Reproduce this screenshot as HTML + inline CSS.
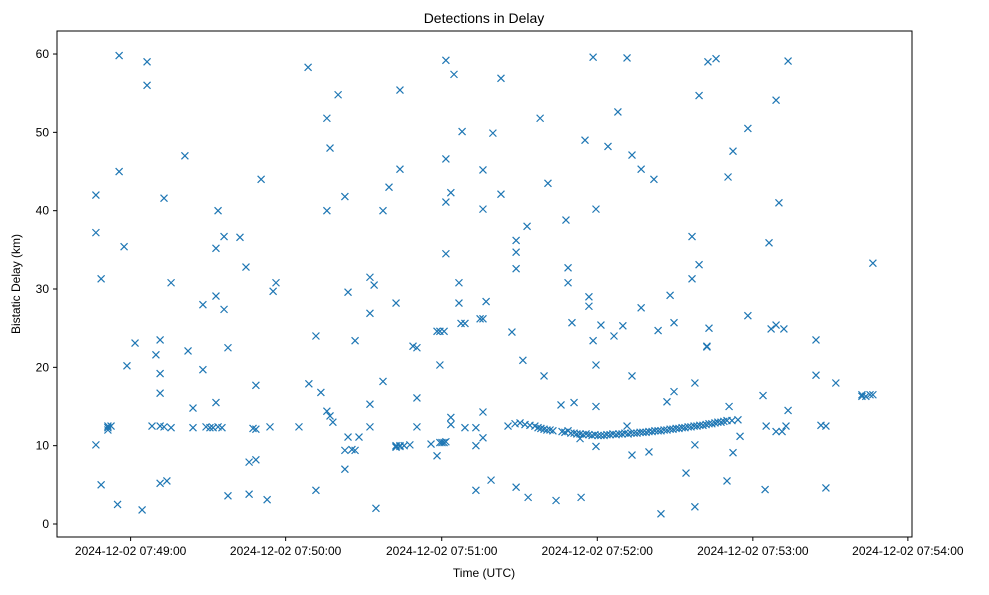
<!DOCTYPE html>
<html><head><meta charset="utf-8"><style>
body{margin:0;background:#fff}
svg{font-family:"Liberation Sans","DejaVu Sans",sans-serif}
</style></head><body>
<svg id="chart" width="989" height="590" xmlns="http://www.w3.org/2000/svg">
<rect width="989" height="590" fill="#fff"/>
<text x="484" y="23" font-size="14" text-anchor="middle">Detections in Delay</text>
<text x="484" y="577" font-size="12" text-anchor="middle">Time (UTC)</text>
<text x="20" y="284" font-size="12" text-anchor="middle" transform="rotate(-90 20 284)">Bistatic Delay (km)</text>
<g id="ticks"></g>
<g id="marks"></g>
<rect x="57" y="31" width="855" height="506" fill="none" stroke="#000" stroke-width="1"/>
</svg>
<script>
// seconds after 07:48:00 UTC
const times = [
50,50,50,52,52,54.6,54.6,54.6,55.8,58.3,58.9,58.9,60.8,61.9,65,67.7,69.6,69.6,71.5,73,74.6,74.6,74.6,74.6,74.6,76.1,76.1,77.2,78.8,78.8,
84.1,85.3,87.2,87.2,91,91,92.2,93.7,94.9,96,96,96,96.8,96.8,98.3,99.1,99.1,100.6,100.6,105.2,107.5,108.7,108.7,110.2,111.3,111.3,111.3,113.3,115.6,116.7,117.9,119,
127.8,131.3,131.6,134.3,134.3,136.2,138.5,138.5,138.5,139.7,139.7,140.8,142.8,145.4,145.4,145.4,146.6,146.6,148.1,149.3,149.3,150.8,
155,155,155,155,156.6,157.3,160,160,162.3,165,165,165,165,166.5,166.5,166.5,166.5,168.1,170.3,171.5,173,173,173,
178.4,180.7,180.7,181.8,181.8,181.8,182.6,183.4,183.4,184.1,184.1,184.1,184.1,184.1,186,186,186,187.2,189.1,189.1,189.9,190.3,191.4,191.4,
195.6,195.6,195.6,197.2,198.3,198.3,198.3,198.3,198.3,199.5,201.4,202.1,205.2,205.2,207.9,209.4,211,211,211,211,213.6,215.2,215.6,
210.6,212.5,214.4,216.3,218.2,219.4,220.5,221.7,222.8,224,225.1,228.6,229.7,230.9,232,233.2,234.3,235.5,236.6,237.8,238.9,240.1,241.2,242.4,243.5,244.7,245.8,247,248.1,249.3,250.4,251.6,252.7,253.9,255,256.2,257.3,258.5,259.6,260.8,261.9,263.1,264.2,265.4,266.5,267.7,268.8,270,271.1,272.3,273.4,274.6,275.7,276.9,278,279.2,280.3,281.4,282.6,283.8,284.9,286,287.2,288.3,289.5,290.6,291.8,293.7,296,
220.2,221.7,223.2,226.3,228.2,230.1,230.9,230.9,232.4,233.2,235.5,235.9,237.4,238.9,238.9,240.5,240.5,241.6,241.6,241.6,241.6,243.5,246.2,248.5,250,251.9,253.5,253.5,255.4,255.4,255.4,258.9,258.9,261.9,263.8,265.4,266.5,268.8,270,271.5,271.5,
276.1,278.4,278.4,279.5,279.5,279.5,281.1,281.1,284.1,284.1,284.5,284.9,287.6,291.8,292.2,292.6,294.1,294.1,296.8,299.8,299.8,
305.6,306.4,306.8,307.9,308.7,310.6,310.6,310.6,311.7,312.9,313.6,314.4,315.2,315.2,325.9,325.9,327.8,329.7,329.7,333.5,343.5,343.5,345,346.6,347.7,347.7
];
const delays = [
42,37.2,10.1,5,31.3,12.3,12.5,12,12.5,2.5,59.8,45,35.4,20.2,23.1,1.8,59,56,12.5,21.6,16.7,19.2,23.5,5.2,12.5,41.6,12.4,5.5,12.3,30.8,
47,22.1,12.3,14.8,19.7,28,12.4,12.3,12.3,35.2,29.1,15.5,40,12.4,12.3,27.4,36.7,22.5,3.6,36.6,32.8,7.9,3.8,12.2,8.2,17.7,12.1,44,3.1,12.4,29.7,30.8,
12.4,58.3,17.9,4.3,24,16.8,40,51.8,14.4,48,13.8,13,54.8,9.4,7,41.8,11.1,29.6,9.5,23.4,9.4,11.1,
31.5,26.9,15.3,12.4,30.5,2,40,18.2,43,9.9,10,9.8,28.2,45.3,55.4,10,9.9,10,10.1,22.7,22.5,12.4,16.1,
10.2,24.6,8.7,24.6,10.4,20.3,10.4,24.6,10.4,59.2,46.6,41.1,34.5,10.5,42.3,12.7,13.6,57.4,30.8,28.2,25.6,50.1,25.6,12.3,
12.3,4.3,10,26.2,26.2,11,14.3,45.2,40.2,28.4,5.6,49.9,56.9,42.1,12.5,24.5,4.7,32.6,34.7,36.2,20.9,38,3.4,
12.8,12.9,12.7,12.6,12.5,12.3,12.2,12.1,12,12,11.9,11.8,11.7,11.9,11.6,11.6,11.5,11.5,11.4,11.5,11.4,11.3,11.4,11.3,11.3,11.3,11.4,11.4,11.5,11.4,11.5,11.5,11.6,11.5,11.6,11.6,11.6,11.7,11.7,11.7,11.8,11.8,11.9,11.9,11.9,12,12,12.1,12.1,12.2,12.2,12.3,12.3,12.4,12.4,12.5,12.5,12.6,12.6,12.7,12.8,12.8,12.9,13,13,13.1,13.2,13.2,13.3,
51.8,18.9,43.5,3,15.2,38.8,30.8,32.7,25.7,15.5,10.9,3.4,49,29,27.8,59.6,23.4,40.2,20.3,15,9.9,25.4,48.2,24,52.6,25.3,59.5,12.5,47.1,18.9,8.8,45.3,27.6,9.2,44,24.7,1.3,15.6,29.2,25.7,16.9,
6.5,31.3,36.7,18,2.2,10.1,54.7,33.1,22.7,22.6,59,25,59.4,5.5,44.3,15,47.6,9.1,11.2,50.5,26.6,
16.4,4.4,12.5,35.9,24.9,54.1,11.8,25.4,41,11.8,24.9,12.5,59.1,14.5,23.5,19,12.6,12.5,4.6,18,16.3,16.5,16.3,16.5,33.3,16.5
];
const xTickSecs = [63.3,122.7,182.5,242.1,301.7,361.1];
const xTickLabels = ["2024-12-02 07:49:00","2024-12-02 07:50:00","2024-12-02 07:51:00","2024-12-02 07:52:00","2024-12-02 07:53:00","2024-12-02 07:54:00"];
const yTicks = [0,10,20,30,40,50,60];

function xs(s){return 122+(s-60)*2.61;}
function ys(v){return 524-v*7.833;}
const NS="http://www.w3.org/2000/svg";
const tg=document.getElementById('ticks');
xTickSecs.forEach((s,i)=>{
  const x=xs(s);
  const l=document.createElementNS(NS,'line');
  
  
  l.setAttribute('x1',x);l.setAttribute('x2',x);l.setAttribute('y1',537);l.setAttribute('y2',541);l.setAttribute('stroke','#000');
  tg.appendChild(l);
  const t=document.createElementNS(NS,'text');
  
  
  t.setAttribute('x',x);t.setAttribute('y',555);t.setAttribute('font-size','12');t.setAttribute('text-anchor','middle');
  t.textContent=xTickLabels[i];tg.appendChild(t);
});
yTicks.forEach(v=>{
  const y=ys(v);
  const l=document.createElementNS(NS,'line');
  
  
  l.setAttribute('x1',53);l.setAttribute('x2',57);l.setAttribute('y1',y);l.setAttribute('y2',y);l.setAttribute('stroke','#000');
  tg.appendChild(l);
  const t=document.createElementNS(NS,'text');
  
  
  t.setAttribute('x',49);t.setAttribute('y',y+4);t.setAttribute('font-size','12');t.setAttribute('text-anchor','end');
  t.textContent=v;tg.appendChild(t);
});
const mg=document.getElementById('marks');
const n=Math.min(times.length,delays.length);
for(let i=0;i<n;i++){
  const x=xs(times[i]),y=ys(delays[i]),r=3.5;
  const p=document.createElementNS(NS,'path');
  
  
  p.setAttribute('d',`M${x-r},${y-r}L${x+r},${y+r}M${x-r},${y+r}L${x+r},${y-r}`);
  p.setAttribute('stroke','#1f77b4');p.setAttribute('stroke-width','1.2');p.setAttribute('fill','none');
  mg.appendChild(p);
}
</script>
</body></html>
